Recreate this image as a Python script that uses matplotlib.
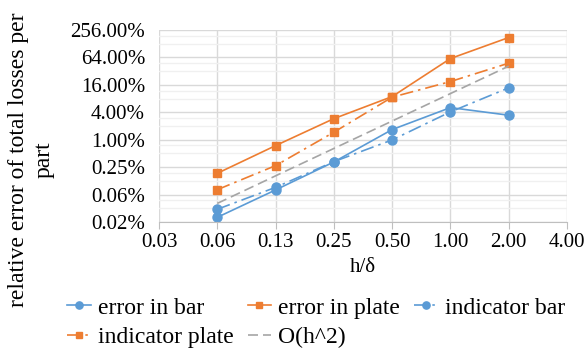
import numpy as np
import matplotlib.pyplot as plt
from matplotlib.ticker import FixedLocator, FixedFormatter, FuncFormatter, NullFormatter

plt.rcParams["font.family"] = ["Liberation Serif", "DejaVu Serif"]

# data (relative error in %)
h = [0.0625, 0.125, 0.25, 0.5, 1.0, 2.0]
err_bar = [0.0198, 0.079, 0.325, 1.67, 5.07, 3.45]
err_plate = [0.183, 0.742, 2.9, 8.85, 60.5, 175.0]
ind_bar = [0.0297, 0.090, 0.33, 0.99, 4.08, 13.75]
ind_plate = [0.080, 0.27, 1.46, 8.58, 18.9, 47.9]
o_h2 = [0.040, 0.161, 0.643, 2.57, 10.3, 41.2]

x_ticks = [0.03125, 0.0625, 0.125, 0.25, 0.5, 1.0, 2.0, 4.0]
x_tick_labels = ["0.03", "0.06", "0.13", "0.25", "0.50", "1.00", "2.00", "4.00"]
y_ticks = [0.015625, 0.0625, 0.25, 1.0, 4.0, 16.0, 64.0, 256.0]

BLUE = "#5B9BD5"
ORANGE = "#ED7D31"
GRAY = "#A5A5A5"
FS = 15
FS_BIG = 17

fig = plt.figure(figsize=(5.85, 3.49), dpi=100)
ax = fig.add_axes([159 / 585, 1 - 222 / 349, 408 / 585, 192 / 349])

dashdot = (0, (8, 3, 1.5, 3))
l1, = ax.plot(h, err_bar, color=BLUE, lw=1.2, marker="o", ms=6.5, label="error in bar")
l2, = ax.plot(h, err_plate, color=ORANGE, lw=1.2, marker="s", ms=6, label="error in plate")
l3, = ax.plot(h, ind_bar, color=BLUE, lw=1.2, marker="o", ms=6.5,
              linestyle=dashdot, label="indicator bar")
l4, = ax.plot(h, ind_plate, color=ORANGE, lw=1.2, marker="s", ms=6,
              linestyle=dashdot, label="indicator plate")
l5, = ax.plot(h, o_h2, color=GRAY, lw=1.2, linestyle=(0, (6, 3)), label="O(h^2)")

ax.set_xscale("log", base=2)
ax.set_yscale("log", base=4)
ax.set_xlim(x_ticks[0], x_ticks[-1])
ax.set_ylim(y_ticks[0], y_ticks[-1])

ax.xaxis.set_major_locator(FixedLocator(x_ticks))
ax.xaxis.set_major_formatter(FixedFormatter(x_tick_labels))
ax.xaxis.set_minor_locator(FixedLocator([]))
ax.yaxis.set_major_locator(FixedLocator(y_ticks))
ax.yaxis.set_major_formatter(FuncFormatter(lambda v, p: f"{v:.2f}%"))
minors = [t * m for t in y_ticks[:-1] for m in (2, 3)]
ax.yaxis.set_minor_locator(FixedLocator(minors))
ax.yaxis.set_minor_formatter(NullFormatter())

ax.grid(True, which="major", color="#D9D9D9", lw=1.0)
ax.grid(True, which="minor", axis="y", color="#F0F0F0", lw=1.0)
ax.set_axisbelow(True)

for s in ["top", "right", "left"]:
    ax.spines[s].set_visible(False)
ax.spines["bottom"].set_color("#BFBFBF")

ax.tick_params(axis="x", which="major", length=5, color="#BFBFBF", labelsize=FS, pad=3)
ax.tick_params(axis="y", which="both", length=0, labelsize=FS, pad=10)

ax.set_xlabel("h/δ", fontsize=FS, labelpad=4)
fig.text(31 / 585, 1 - 160 / 349, "relative error of total losses per\npart",
         rotation=90, ha="center", va="center", fontsize=FS_BIG,
         multialignment="center", linespacing=1.3)

# row-major order like the original legend
handles = [l1, l4, l2, l5, l3]
fig.legend(handles, [hd.get_label() for hd in handles],
           loc="upper left", bbox_to_anchor=(67 / 585, 1 - 297 / 349),
           ncol=3, frameon=False, fontsize=FS_BIG, handlelength=1.0,
           handletextpad=0.3, columnspacing=0.6, labelspacing=0.35,
           numpoints=1, markerscale=0.8, borderpad=0, borderaxespad=0)

fig.savefig("out.png", dpi=100)
